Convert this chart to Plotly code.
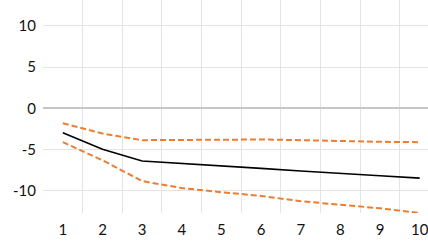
import plotly.graph_objects as go

x_vals = [1, 2, 3, 4, 5, 6, 7, 8, 9, 10]
central = [-2.95, -4.94, -6.36, -6.69, -6.93, -7.26, -7.58, -7.83, -8.15, -8.44]
upper = [-1.8, -3.03, -3.84, -3.8, -3.72, -3.76, -3.84, -3.96, -4.04, -4.08]
lower = [-4.08, -6.28, -8.8, -9.65, -10.15, -10.6, -11.24, -11.7, -12.1, -12.66]
y_ticks = [10, 5, 0, -5, -10]

orange = "#ED7D31"
fig = go.Figure()
fig.add_trace(go.Scatter(x=x_vals, y=upper, mode="lines",
                         line=dict(color=orange, width=2, dash="6px,3px")))
fig.add_trace(go.Scatter(x=x_vals, y=lower, mode="lines",
                         line=dict(color=orange, width=2, dash="6px,3px")))
fig.add_trace(go.Scatter(x=x_vals, y=central, mode="lines",
                         line=dict(color="#000000", width=1.6)))

font = dict(family="Lato, Carlito, sans-serif", size=15, color="#111111")
fig.update_layout(
    width=428, height=243,
    margin=dict(l=43, r=0, t=0, b=30, autoexpand=False),
    paper_bgcolor="white", plot_bgcolor="white",
    showlegend=False,
    font=font,
    xaxis=dict(
        range=[0.5, 10.21], automargin=False,
        tickmode="array", tickvals=x_vals, ticktext=[str(v) for v in x_vals],
        showgrid=False, zeroline=False, showline=False,
        ticks="outside", ticklen=3, tickcolor="rgba(0,0,0,0)",
        ticklabeloverflow="allow",
        minor=dict(tickmode="array", tickvals=[v + 0.5 for v in x_vals[:-1]],
                   showgrid=True, gridcolor="#e4e4e4", gridwidth=1.2, ticks=""),
        tickfont=font,
    ),
    yaxis=dict(
        range=[-12.67, 13.15], automargin=False,
        tickmode="array", tickvals=y_ticks, ticktext=[str(v) for v in y_ticks],
        showgrid=True, gridcolor="#e4e4e4", gridwidth=1.2,
        zeroline=True, zerolinecolor="#c6c6c6", zerolinewidth=1.8,
        showline=False,
        ticks="outside", ticklen=3, tickcolor="rgba(0,0,0,0)",
        ticklabeloverflow="allow",
        tickfont=font,
    ),
)

fig.write_html("out.html", config={"displayModeBar": False},
               post_script="document.body.style.margin='0px';document.body.style.overflow='hidden';")
